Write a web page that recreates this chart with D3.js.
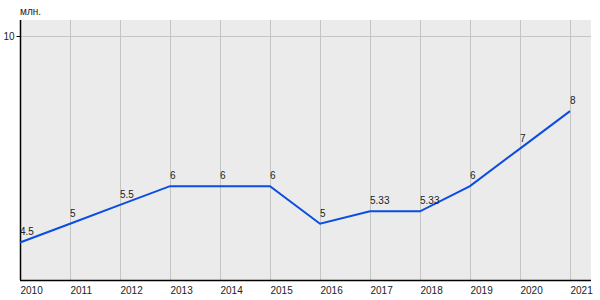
<!DOCTYPE html>
<html>
<head>
<meta charset="utf-8">
<script src="https://cdn.jsdelivr.net/npm/d3@7"></script>
<style>
  body { margin: 0; background: #fff; }
  svg text { font-family: Arial, "Liberation Sans", sans-serif; }
</style>
</head>
<body>
<svg id="chart"></svg>
<script>
const years = [2010, 2011, 2012, 2013, 2014, 2015, 2016, 2017, 2018, 2019, 2020, 2021];
const values = [4.5, 5, 5.5, 6, 6, 6, 5, 5.33, 5.33, 6, 7, 8];
const yTicks = [10];
const unitLabel = "млн.";

const width = 600, height = 300;
const svg = d3.select("#chart").attr("width", width).attr("height", height);

const x = d3.scaleLinear().domain([2010, 2021]).range([20, 570]);
const y = d3.scaleLinear().domain([3.5, 10]).range([280, 36]);

// plot background
svg.append("rect")
    .attr("x", 20).attr("y", 20)
    .attr("width", 571).attr("height", 260)
    .attr("fill", "#ebebeb");

// vertical grid
svg.selectAll(".vgrid")
    .data(years.slice(1))
    .join("line")
    .attr("x1", d => x(d) + 0.5).attr("x2", d => x(d) + 0.5)
    .attr("y1", 20).attr("y2", 280)
    .attr("stroke", "#c4c4c4").attr("stroke-width", 1);

// horizontal grid
svg.selectAll(".hgrid")
    .data(yTicks)
    .join("line")
    .attr("x1", 20).attr("x2", 591)
    .attr("y1", d => y(d) + 0.5).attr("y2", d => y(d) + 0.5)
    .attr("stroke", "#c4c4c4").attr("stroke-width", 1);

// y axis
const yAxis = svg.append("g")
    .attr("transform", "translate(20.5,0)")
    .call(d3.axisLeft(y).tickValues(yTicks).tickFormat(d3.format("d")).tickSize(4).tickPadding(2));
yAxis.select(".domain").attr("d", "M0,20V280").attr("stroke", "#000").attr("stroke-width", 1.5);
yAxis.selectAll("text").attr("font-size", 10).attr("fill", "#222").attr("font-family", "Arial, sans-serif");

// x axis
const xAxis = svg.append("g")
    .attr("transform", "translate(0,280.5)")
    .call(d3.axisBottom(x).tickValues(years).tickFormat(d3.format("d")).tickSize(0).tickPadding(6));
xAxis.select(".domain").attr("d", "M20,0H591").attr("stroke", "#000").attr("stroke-width", 1.5);
xAxis.selectAll("text")
    .attr("text-anchor", "start")
    .attr("font-size", 10).attr("fill", "#222").attr("font-family", "Arial, sans-serif");

// unit label
svg.append("text")
    .attr("x", 20).attr("y", 15)
    .attr("font-size", 10).attr("fill", "#222")
    .text(unitLabel);

// line
const data = years.map((yr, i) => ({ year: yr, value: values[i] }));
svg.append("path")
    .datum(data)
    .attr("fill", "none")
    .attr("stroke", "#0a4de0")
    .attr("stroke-width", 2)
    .attr("d", d3.line().x(d => x(d.year)).y(d => y(d.value)));

// value labels
svg.selectAll(".vlabel")
    .data(data)
    .join("text")
    .attr("x", d => x(d.year))
    .attr("y", d => y(d.value) - 7)
    .attr("font-size", 10).attr("fill", "#222")
    .text(d => d.value);
</script>
</body>
</html>
